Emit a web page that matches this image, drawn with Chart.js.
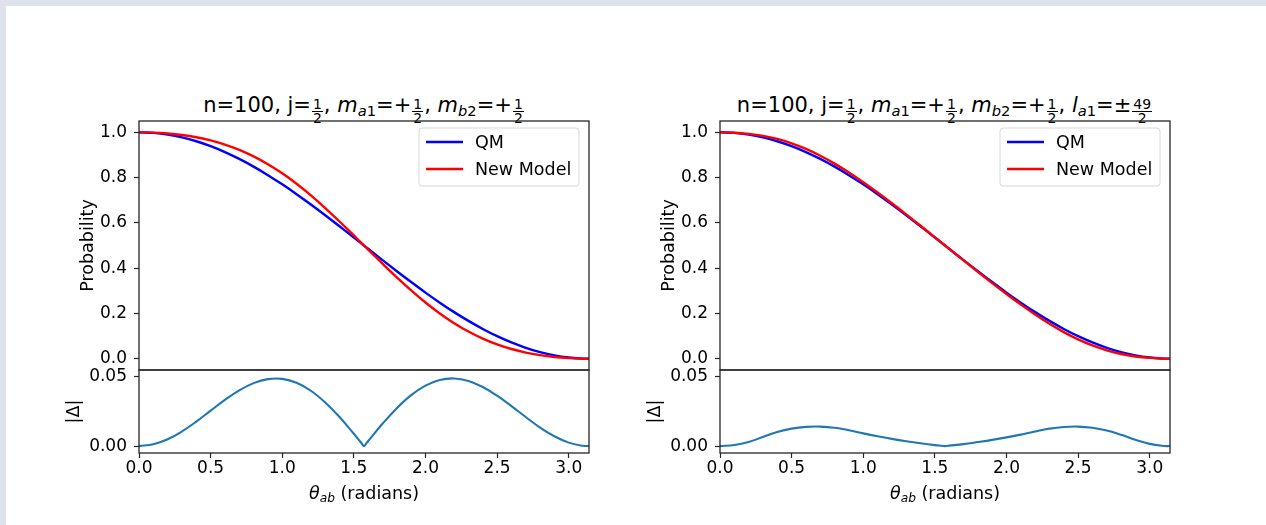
<!DOCTYPE html>
<html>
<head>
<meta charset="utf-8">
<script src="https://cdn.jsdelivr.net/npm/chart.js@4.4.0/dist/chart.umd.min.js"></script>
<style>
  html, body { margin: 0; padding: 0; }
  body { width: 1266px; height: 525px; position: relative; overflow: hidden; background: #fff; font-family: "DejaVu Sans"; color: #000; }
  .edge-top { position: absolute; left: 0; top: 0; width: 1266px; height: 6px; background: #dde2ec; }
  .edge-left { position: absolute; left: 0; top: 0; width: 6px; height: 525px; background: #dde2ec; }
  canvas { position: absolute; }
  .title { position: absolute; text-align: center; font-size: 21px; line-height: 22px; white-space: nowrap; }
  .xlab { position: absolute; text-align: center; font-size: 17.5px; line-height: 20px; white-space: nowrap; }
  .fr { display: inline-block; vertical-align: -11px; font-size: 14px; line-height: 0.9; text-align: center; margin: 0 1px; }
  .fr span { display: block; padding: 0 1px; }
  .fr span:first-child { border-bottom: 1px solid #000; }
  sub { font-size: 0.7em; vertical-align: -0.25em; line-height: 0; }
</style>
</head>
<body>
<div class="edge-top"></div>
<div class="edge-left"></div>

<div class="title" style="left:139px; width:450px; top:94px;">n=100, j=<span class="fr"><span>1</span><span>2</span></span>, <i>m</i><sub><i>a</i>1</sub>=+<span class="fr"><span>1</span><span>2</span></span>, <i>m</i><sub><i>b</i>2</sub>=+<span class="fr"><span>1</span><span>2</span></span></div>
<div class="title" style="left:720px; width:450px; top:94px;">n=100, j=<span class="fr"><span>1</span><span>2</span></span>, <i>m</i><sub><i>a</i>1</sub>=+<span class="fr"><span>1</span><span>2</span></span>, <i>m</i><sub><i>b</i>2</sub>=+<span class="fr"><span>1</span><span>2</span></span>, <i>l</i><sub><i>a</i>1</sub>=±<span class="fr"><span>49</span><span>2</span></span></div>

<canvas id="mainL" width="535" height="265" style="left:60px; top:111px;"></canvas>
<canvas id="resL" width="535" height="120" style="left:60px; top:365px;"></canvas>
<canvas id="mainR" width="535" height="265" style="left:641px; top:111px;"></canvas>
<canvas id="resR" width="535" height="120" style="left:641px; top:365px;"></canvas>

<div class="xlab" style="left:139px; width:450px; top:483px;"><i>θ</i><sub><i>ab</i></sub> (radians)</div>
<div class="xlab" style="left:720px; width:450px; top:483px;"><i>θ</i><sub><i>ab</i></sub> (radians)</div>

<script>
// angle samples (radians) read along the x axis
const theta = [0, 0.1, 0.2, 0.3, 0.4, 0.5, 0.6, 0.7, 0.8, 0.9, 1.0, 1.1, 1.2, 1.3, 1.4, 1.5, 1.55, 1.5708, 1.59,
  1.6, 1.7, 1.8, 1.9, 2.0, 2.1, 2.2, 2.3, 2.4, 2.5, 2.6, 2.7, 2.8, 2.9, 3.0, 3.1, 3.1416];

// blue curve, same in both panels
const qmProb = [1.0000, 0.9975, 0.9900, 0.9777, 0.9605, 0.9388, 0.9127, 0.8824, 0.8484, 0.8108, 0.7702, 0.7268,
  0.6812, 0.6338, 0.5850, 0.5354, 0.5104, 0.5000, 0.4904, 0.4854, 0.4356, 0.3864, 0.3384, 0.2919, 0.2476, 0.2057,
  0.1669, 0.1313, 0.0994, 0.0716, 0.0480, 0.0289, 0.0145, 0.0050, 0.0004, 0.0000];

// left panel: red curve and |delta|
const newLeft = [1.0000, 0.9988, 0.9949, 0.9883, 0.9782, 0.9644, 0.9461, 0.9227, 0.8939, 0.8592, 0.8188, 0.7726,
  0.7212, 0.6653, 0.6060, 0.5443, 0.5130, 0.5000, 0.4880, 0.4817, 0.4195, 0.3590, 0.3016, 0.2482, 0.1998, 0.1568,
  0.1198, 0.0886, 0.0630, 0.0427, 0.0270, 0.0155, 0.0074, 0.0025, 0.0002, 0.0000];
const deltaLeft = [0, 0.0013, 0.0049, 0.0106, 0.0177, 0.0256, 0.0334, 0.0403, 0.0455, 0.0484, 0.0486, 0.0458,
  0.0400, 0.0315, 0.0210, 0.0089, 0.0026, 0, 0.0024, 0.0037, 0.0161, 0.0274, 0.0368, 0.0437, 0.0478, 0.0489,
  0.0471, 0.0427, 0.0364, 0.0289, 0.0210, 0.0134, 0.0071, 0.0025, 0.0002, 0];

// right panel: red curve and |delta|
const newRight = [1.0000, 0.9983, 0.9930, 0.9843, 0.9707, 0.9514, 0.9266, 0.8965, 0.8617, 0.8223, 0.7794, 0.7339,
  0.6864, 0.6373, 0.5870, 0.5361, 0.5106, 0.5000, 0.4902, 0.4851, 0.4342, 0.3835, 0.3339, 0.2856, 0.2393, 0.1951,
  0.1543, 0.1175, 0.0853, 0.0584, 0.0368, 0.0207, 0.0099, 0.0034, 0.0003, 0.0000];
const deltaRight = [0, 0.0008, 0.0030, 0.0066, 0.0102, 0.0126, 0.0139, 0.0141, 0.0133, 0.0115, 0.0092, 0.0071,
  0.0052, 0.0035, 0.0020, 0.0007, 0.0002, 0, 0.0002, 0.0003, 0.0014, 0.0029, 0.0045, 0.0063, 0.0083, 0.0106,
  0.0126, 0.0138, 0.0141, 0.0132, 0.0112, 0.0082, 0.0046, 0.0016, 0.0001, 0];

const seriesNames = ['QM', 'New Model'];
const probTicks = [0, 0.2, 0.4, 0.6, 0.8, 1.0];
const probTickLabels = ['0.0', '0.2', '0.4', '0.6', '0.8', '1.0'];
const deltaTicks = [0, 0.05];
const deltaTickLabels = ['0.00', '0.05'];
const thetaTicks = [0, 0.5, 1.0, 1.5, 2.0, 2.5, 3.0];
const thetaTickLabels = ['0.0', '0.5', '1.0', '1.5', '2.0', '2.5', '3.0'];

const FONT = 'DejaVu Sans';
const INK = '#262626';
const AXIS_W = 79;

const pts = ys => theta.map((t, i) => ({ x: t, y: ys[i] }));

// full box round each axes, like matplotlib spines
const framePlugin = {
  id: 'frame',
  afterDatasetsDraw(chart) {
    const { ctx, chartArea: a } = chart;
    ctx.save();
    ctx.strokeStyle = INK;
    ctx.lineWidth = 1.3;
    ctx.strokeRect(a.left, a.top, a.right - a.left, a.bottom - a.top);
    ctx.restore();
  }
};

// legend box in the upper right corner
const legendPlugin = {
  id: 'boxLegend',
  afterDraw(chart) {
    const { ctx, chartArea: a } = chart;
    const w = 160, h = 58;
    const x = a.right - 10 - w, y = a.top + 7;
    ctx.save();
    ctx.beginPath();
    ctx.roundRect(x, y, w, h, 3);
    ctx.fillStyle = 'rgba(255,255,255,0.8)';
    ctx.fill();
    ctx.strokeStyle = '#d8d8d8';
    ctx.lineWidth = 1;
    ctx.stroke();
    ctx.font = '17.5px "' + FONT + '"';
    ctx.textBaseline = 'middle';
    chart.data.datasets.forEach((ds, i) => {
      const ly = y + 14 + i * 27;
      ctx.beginPath();
      ctx.moveTo(x + 7, ly);
      ctx.lineTo(x + 44, ly);
      ctx.strokeStyle = ds.borderColor;
      ctx.lineWidth = 2.5;
      ctx.stroke();
      ctx.fillStyle = '#000';
      ctx.fillText(ds.label, x + 56, ly + 1);
    });
    ctx.restore();
  }
};

function xScale(show) {
  return {
    type: 'linear',
    min: 0,
    max: Math.PI,
    display: show,
    afterBuildTicks: s => { s.ticks = thetaTicks.map(v => ({ value: v })); },
    afterFit: s => {
      s.height = show ? 32 : 0;
      s.paddingLeft = 0;
      s.paddingRight = 0;
    },
    ticks: {
      callback: (v, i) => thetaTickLabels[i],
      font: { family: FONT, size: 17 },
      color: '#000',
      padding: 0,
      maxRotation: 0,
      autoSkip: false
    },
    grid: { drawOnChartArea: false, tickLength: 5, tickColor: INK, tickWidth: 1.2 },
    border: { display: false }
  };
}

function yScale(min, max, vals, labels, title, titlePad) {
  return {
    type: 'linear',
    min: min,
    max: max,
    afterBuildTicks: s => { s.ticks = vals.map(v => ({ value: v })); },
    afterFit: s => {
      s.width = AXIS_W;
      s.paddingTop = 0;
      s.paddingBottom = 0;
    },
    ticks: {
      callback: (v, i) => labels[i],
      font: { family: FONT, size: 17 },
      color: '#000',
      padding: 7,
      autoSkip: false
    },
    grid: { drawOnChartArea: false, tickLength: 5, tickColor: INK, tickWidth: 1.2 },
    border: { display: false },
    title: {
      display: true,
      text: title,
      font: { family: FONT, size: 17.5 },
      color: '#000',
      padding: { top: titlePad, bottom: 0 }
    }
  };
}

const baseOptions = (scales, padding) => ({
  responsive: false,
  animation: false,
  layout: { padding: padding },
  plugins: { legend: { display: false }, tooltip: { enabled: false } },
  scales: scales
});

function probChart(id, newModel) {
  new Chart(document.getElementById(id), {
    type: 'line',
    data: {
      datasets: [
        { label: seriesNames[0], data: pts(qmProb), borderColor: '#0000ff', borderWidth: 2.4,
          pointRadius: 0, tension: 0.4, order: 1 },
        { label: seriesNames[1], data: pts(newModel), borderColor: '#ff0000', borderWidth: 2.4,
          pointRadius: 0, tension: 0.4, order: 0 }
      ]
    },
    options: baseOptions({
      x: xScale(false),
      y: yScale(-0.05, 1.05, probTicks, probTickLabels, 'Probability', 17.5)
    }, { top: 10, right: 6, bottom: 6, left: 0 }),
    plugins: [framePlugin, legendPlugin]
  });
}

function deltaChart(id, delta) {
  new Chart(document.getElementById(id), {
    type: 'line',
    data: {
      datasets: [
        { label: '|Δ|', data: pts(delta), borderColor: '#1f77b4', borderWidth: 2.1,
          pointRadius: 0, tension: 0.4 }
      ]
    },
    options: baseOptions({
      x: xScale(true),
      y: yScale(-0.005, 0.055, deltaTicks, deltaTickLabels, '|Δ|', 3.5)
    }, { top: 5, right: 6, bottom: 0, left: 0 }),
    plugins: [framePlugin]
  });
}

probChart('mainL', newLeft);
deltaChart('resL', deltaLeft);
probChart('mainR', newRight);
deltaChart('resR', deltaRight);
</script>
</body>
</html>
